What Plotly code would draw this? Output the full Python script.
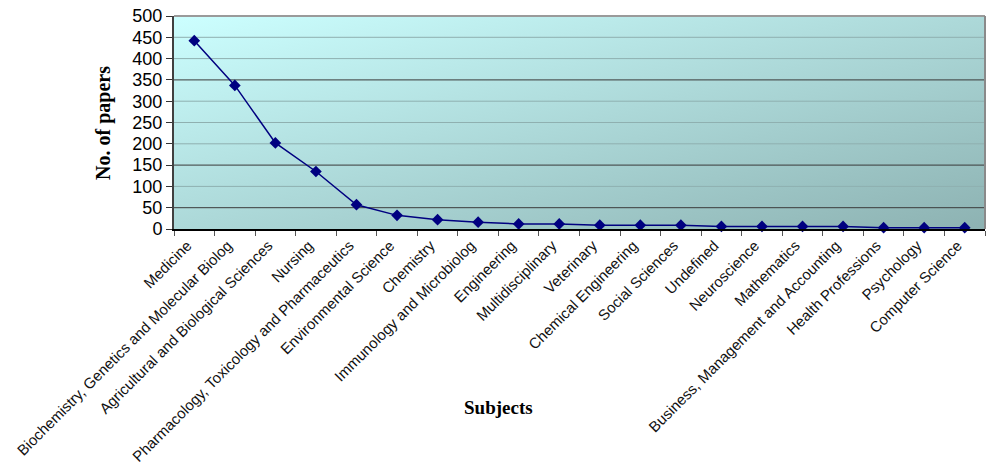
import base64
import plotly.graph_objects as go

# Number of papers per subject area
subjects = [
    "Medicine",
    "Biochemistry, Genetics and Molecular Biolog",
    "Agricultural and Biological Sciences",
    "Nursing",
    "Pharmacology, Toxicology and Pharmaceutics",
    "Environmental Science",
    "Chemistry",
    "Immunology and Microbiolog",
    "Engineering",
    "Multidisciplinary",
    "Veterinary",
    "Chemical Engineering",
    "Social Sciences",
    "Undefined",
    "Neuroscience",
    "Mathematics",
    "Business, Management and Accounting",
    "Health Professions",
    "Psychology",
    "Computer Science",
]
papers = [442, 337, 202, 135, 57, 32, 22, 16, 12, 12,
          9, 9, 9, 6, 6, 6, 6, 3, 3, 3]

y_ticks = [0, 50, 100, 150, 200, 250, 300, 350, 400, 450, 500]
dark_grid = [50, 150, 350]

NAVY = "#000080"

# Diagonal gradient used as the plot-area background
svg = (
    '<svg xmlns="http://www.w3.org/2000/svg" width="800" height="200" '
    'preserveAspectRatio="none" viewBox="0 0 800 200">'
    '<defs><linearGradient id="g" x1="0" y1="0" x2="1" y2="1">'
    '<stop offset="0" stop-color="#ccffff"/>'
    '<stop offset="1" stop-color="#8db2b2"/>'
    '</linearGradient></defs>'
    '<rect width="800" height="200" fill="url(#g)"/></svg>'
)
bg_uri = "data:image/svg+xml;base64," + base64.b64encode(svg.encode()).decode()

fig = go.Figure()
fig.add_trace(go.Scatter(
    x=subjects,
    y=papers,
    mode="lines+markers",
    line=dict(color=NAVY, width=1.5),
    marker=dict(symbol="diamond", size=9, color=NAVY),
    showlegend=False,
    cliponaxis=False,
))

shapes = []
for t in y_ticks[1:-1]:
    shapes.append(dict(
        type="line", xref="paper", yref="y", x0=0, x1=1, y0=t, y1=t,
        line=dict(color="#3a3a3a" if t in dark_grid else "#8fb0b0", width=1),
        layer="below",
    ))
# Top and right frame
shapes.append(dict(type="line", xref="paper", yref="paper", x0=0, x1=1, y0=1, y1=1,
                   line=dict(color="#9a9a9a", width=2), layer="above"))
shapes.append(dict(type="line", xref="paper", yref="paper", x0=1, x1=1, y0=0, y1=1,
                   line=dict(color="#8a8a8a", width=2), layer="above"))

fig.update_layout(
    width=987,
    height=467,
    margin=dict(l=174, r=2, t=16, b=238),
    paper_bgcolor="white",
    plot_bgcolor="rgba(0,0,0,0)",
    images=[dict(source=bg_uri, xref="paper", yref="paper", x=0, y=1,
                 sizex=1, sizey=1, sizing="stretch", layer="below",
                 xanchor="left", yanchor="top")],
    shapes=shapes,
    xaxis=dict(
        type="category",
        tickangle=-45,
        tickson="boundaries",
        ticks="outside",
        ticklen=5,
        tickcolor="#555555",
        ticklabelshift=-7,
        showgrid=False,
        showline=True,
        linecolor="black",
        linewidth=2,
        tickfont=dict(family="Liberation Sans, Arial, sans-serif", size=15, color="#111111"),
        range=[-0.5, len(subjects) - 0.5],
        automargin=False,
    ),
    yaxis=dict(
        range=[0, 500],
        tickvals=y_ticks,
        ticks="outside",
        ticklen=6,
        tickcolor="#333333",
        showgrid=False,
        zeroline=False,
        showline=True,
        linecolor="#404040",
        linewidth=2,
        tickfont=dict(family="Liberation Sans, Arial, sans-serif", size=18, color="black"),
        automargin=False,
    ),
    annotations=[
        dict(text="<b>No. of papers</b>", xref="paper", yref="paper",
             x=-0.087, y=0.5, xanchor="center", yanchor="middle", textangle=-90,
             showarrow=False,
             font=dict(family="Liberation Serif, Times New Roman, serif", size=20, color="black")),
        dict(text="<b>Subjects</b>", xref="paper", yref="paper",
             x=0.4, y=-0.84, xanchor="center", yanchor="middle",
             showarrow=False,
             font=dict(family="Liberation Serif, Times New Roman, serif", size=19, color="black")),
    ],
)

fig.write_html("out.html")
